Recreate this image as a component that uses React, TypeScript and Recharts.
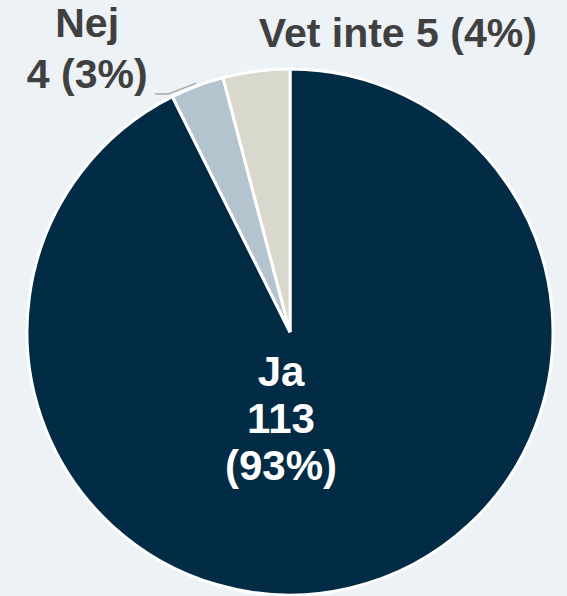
import { PieChart, Pie, Cell } from 'recharts';

const categories = ['Ja', 'Nej', 'Vet inte'];
const counts = [113, 4, 5];
const colors = ['#022b45', '#b3c4cf', '#d9d8cc'];

const data = categories.map((name, i) => ({ name, value: counts[i] }));

const RAD = Math.PI / 180;
const FONT = '"Liberation Sans", Arial, sans-serif';

function renderLabel(props: any) {
  const { cx, cy, midAngle, outerRadius, percent, index, name, value } = props;
  const pct = `${Math.round(percent * 100)}%`;

  if (index === 0) {
    // inside the big slice, near the centre
    const lines = [name, String(value), `(${pct})`];
    return (
      <g>
        {lines.map((s, i) => (
          <text key={i} x={cx - 9} y={cy + 54 + i * 47} textAnchor="middle" fill="#fff" fontSize={42} fontWeight="bold" fontFamily={FONT}>
            {s}
          </text>
        ))}
      </g>
    );
  }

  const ex = cx + (outerRadius + 3) * Math.cos(-midAngle * RAD);
  const ey = cy + (outerRadius + 3) * Math.sin(-midAngle * RAD);

  if (index === 1) {
    return (
      <g>
        <polyline
          points={`${ex},${ey} ${ex - 28},${ey + 11} ${ex - 41},${ey + 11}`}
          fill="none"
          stroke="#a6a6a6"
          strokeWidth={1.5}
        />
        <text x={ex - 109} y={ey - 46} textAnchor="middle" fill="#404040" fontSize={41} fontWeight="bold" fontFamily={FONT}>
          {name}
        </text>
        <text x={ex - 109} y={ey + 5} textAnchor="middle" fill="#404040" fontSize={41} fontWeight="bold" fontFamily={FONT}>
          {value} ({pct})
        </text>
      </g>
    );
  }

  return (
    <text x={ex + 142} y={ey - 21} textAnchor="middle" fill="#404040" fontSize={41} fontWeight="bold" fontFamily={FONT}>
      {name} {value} ({pct})
    </text>
  );
}

export default function App() {
  return (
    <div style={{ position: 'absolute', left: 0, top: 0, width: 567, height: 596, background: '#edf2f6' }}>
      <PieChart width={567} height={596} margin={{ top: 0, right: 0, bottom: 0, left: 0 }}>
        <Pie
          data={data}
          dataKey="value"
          nameKey="name"
          cx={290}
          cy={332}
          outerRadius={263}
          startAngle={90}
          endAngle={-270}
          stroke="#ffffff"
          strokeWidth={3}
          label={renderLabel}
          labelLine={false}
          isAnimationActive={false}
        >
          {data.map((d, i) => (
            <Cell key={d.name} fill={colors[i]} />
          ))}
        </Pie>
      </PieChart>
    </div>
  );
}
